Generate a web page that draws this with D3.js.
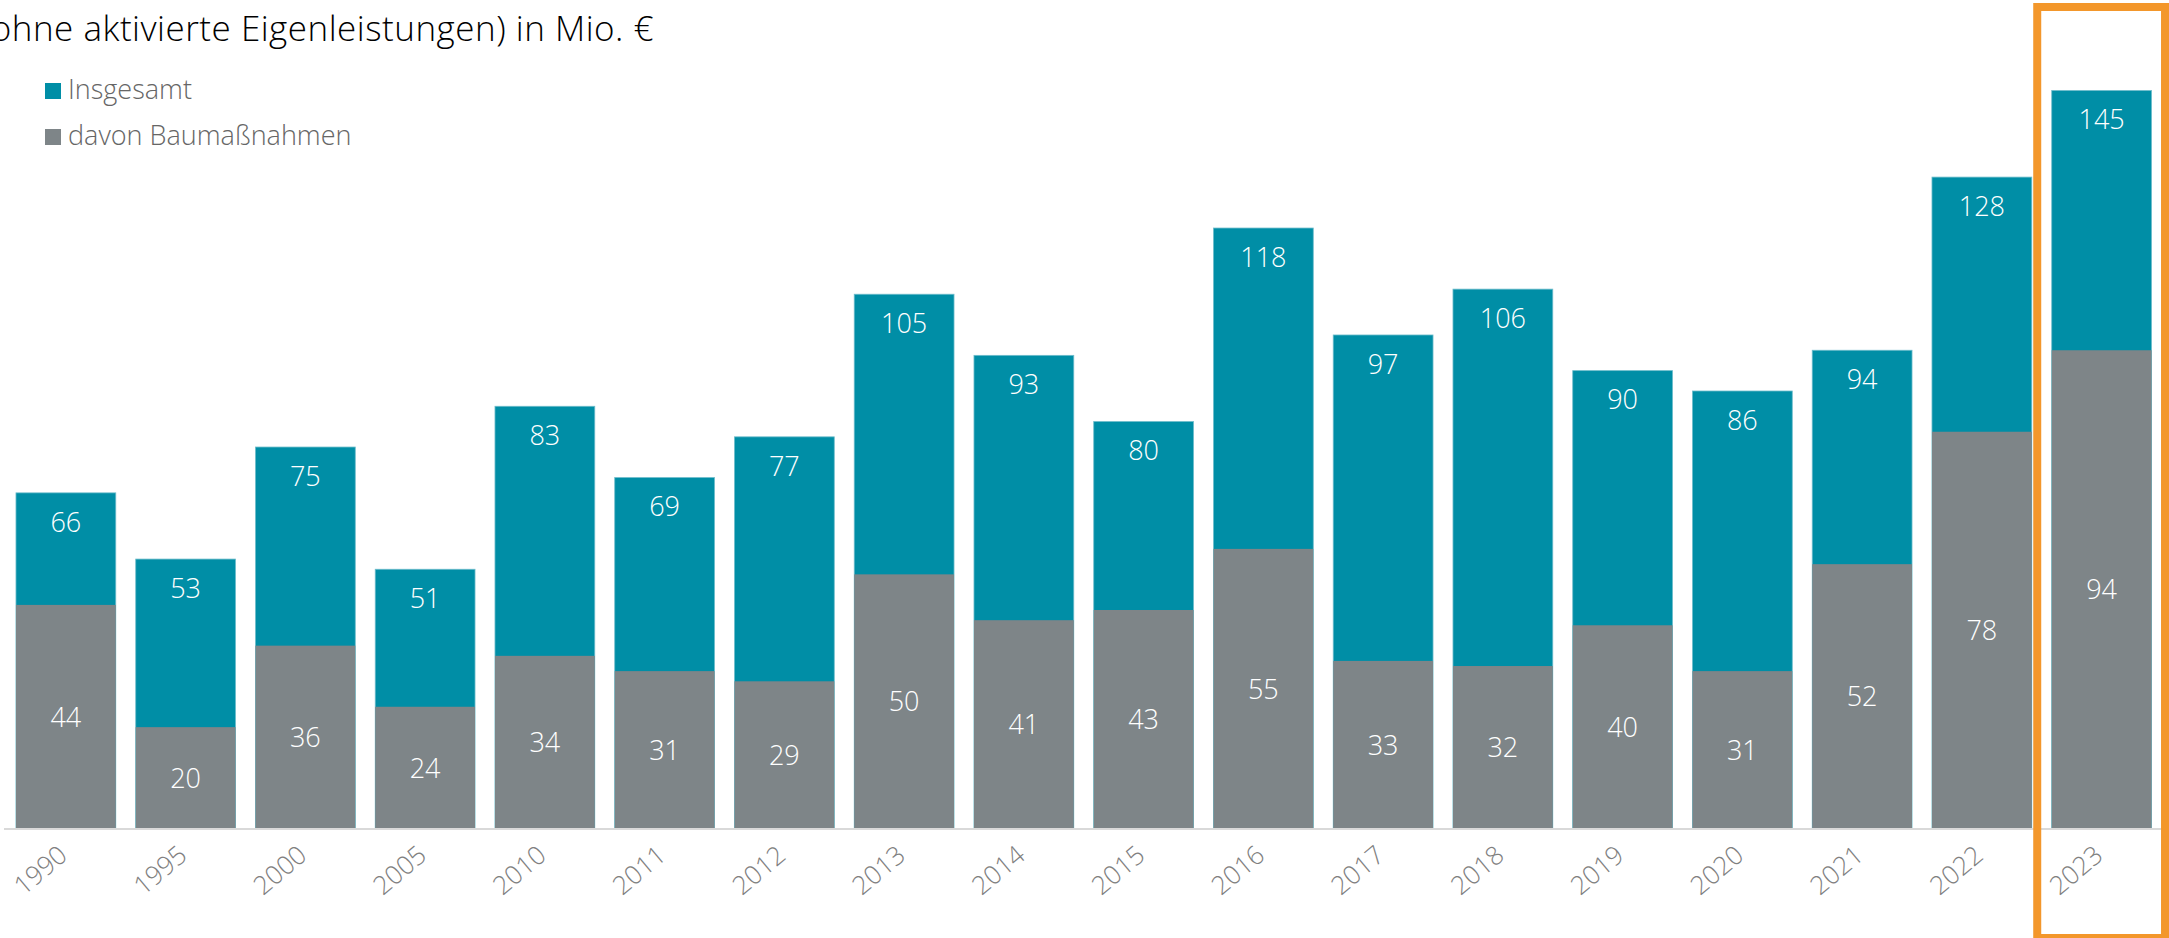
<!DOCTYPE html>
<html>
<head>
<meta charset="utf-8">
<script src="https://cdn.jsdelivr.net/npm/d3@7"></script>
<style>
  body { margin: 0; background: #fff; overflow: hidden; }
  svg { display: block; font-family: "Open Sans", sans-serif; }
</style>
</head>
<body>
<script>
var years = ["1990", "1995", "2000", "2005", "2010", "2011", "2012", "2013", "2014",
    "2015", "2016", "2017", "2018", "2019", "2020", "2021", "2022", "2023"];
var insgesamt = [66, 53, 75, 51, 83, 69, 77, 105, 93, 80, 118, 97, 106, 90, 86, 94, 128, 145];
var baumassnahmen = [44, 20, 36, 24, 34, 31, 29, 50, 41, 43, 55, 33, 32, 40, 31, 52, 78, 94];
var seriesNames = ["Insgesamt", "davon Baumaßnahmen"];
var highlightYear = "2023";

var width = 2169;
var height = 938;
var baseY = 829;
var colors = {total: "#008ea6", bau: "#7e8588", axis: "#d9d9d9", highlight: "#f3972b"};

var svg = d3.select("body").append("svg")
    .attr("width", width)
    .attr("height", height);

var xScale = d3.scaleBand()
    .domain(years)
    .range([6, 2161.5])
    .paddingInner(1 / 6)
    .paddingOuter(1 / 12);

var yScale = d3.scaleLinear()
    .domain([0, 150])
    .range([baseY, baseY - 150 * 5.093]);

// title (cut at the left edge like in the source)
svg.append("text")
    .text("(ohne aktivierte Eigenleistungen) in Mio. €")
    .attr("text-anchor", "end")
    .attr("x", 654)
    .attr("y", 41)
    .attr("font-size", 35)
    .attr("letter-spacing", 0.5)
    .attr("font-weight", 300)
    .attr("fill", "#000");

// legend
var legend = svg.append("g")
    .selectAll("g")
    .data(seriesNames)
    .join("g")
        .attr("transform", function(d, i) { return "translate(45," + (83 + i * 46) + ")"; });

legend.append("rect")
    .attr("width", 16)
    .attr("height", 16)
    .attr("fill", function(d, i) { return i == 0 ? colors.total : colors.bau; });

legend.append("text")
    .text(function(d) { return d; })
    .attr("x", 23)
    .attr("y", 16)
    .attr("font-size", 27)
    .attr("font-weight", 300)
    .attr("fill", "#666");

var rows = years.map(function(y, i) {
    return {year: y, total: insgesamt[i], bau: baumassnahmen[i]};
});

// total bars
svg.append("g")
    .selectAll("rect")
    .data(rows)
    .join("rect")
        .attr("x", function(d) { return xScale(d.year); })
        .attr("y", function(d) { return yScale(d.total); })
        .attr("width", xScale.bandwidth())
        .attr("height", function(d) { return baseY - yScale(d.total); })
        .attr("fill", colors.total)
        .attr("stroke", "#6dbccb")
        .attr("stroke-width", 0.8);

// Baumaßnahmen bars on top
svg.append("g")
    .selectAll("rect")
    .data(rows)
    .join("rect")
        .attr("x", function(d) { return xScale(d.year); })
        .attr("y", function(d) { return yScale(d.bau); })
        .attr("width", xScale.bandwidth())
        .attr("height", function(d) { return baseY - yScale(d.bau); })
        .attr("fill", colors.bau);

// value labels
svg.append("g")
    .selectAll("text")
    .data(rows)
    .join("text")
        .text(function(d) { return d.total; })
        .attr("text-anchor", "middle")
        .attr("x", function(d) { return xScale(d.year) + xScale.bandwidth() / 2; })
        .attr("y", function(d) { return yScale(d.total) + 29; })
        .attr("dy", "0.36em")
        .attr("font-size", 27)
        .attr("font-weight", 300)
        .attr("fill", "#fff");

svg.append("g")
    .selectAll("text")
    .data(rows)
    .join("text")
        .text(function(d) { return d.bau; })
        .attr("text-anchor", "middle")
        .attr("x", function(d) { return xScale(d.year) + xScale.bandwidth() / 2; })
        .attr("y", function(d) { return (yScale(d.bau) + baseY) / 2; })
        .attr("dy", "0.36em")
        .attr("font-size", 27)
        .attr("font-weight", 300)
        .attr("fill", "#fff");

// x axis
var xAxis = svg.append("g")
    .attr("transform", "translate(0," + baseY + ")")
    .call(d3.axisBottom(xScale).tickSize(0).tickPadding(0));

xAxis.select(".domain")
    .attr("d", "M4,0H2161")
    .attr("stroke", colors.axis)
    .attr("stroke-width", 2);

xAxis.selectAll("text")
    .attr("text-anchor", "end")
    .attr("font-family", "Open Sans, sans-serif")
    .attr("font-size", 26)
    .attr("font-weight", 300)
    .attr("fill", "#808080")
    .attr("dy", 0)
    .attr("y", 0)
    .attr("transform", "translate(3,29) rotate(-40)");

// highlight box around the last year
var hx = xScale(highlightYear);
svg.append("rect")
    .attr("x", hx - 14.5)
    .attr("y", 7)
    .attr("width", xScale.bandwidth() + 28)
    .attr("height", 931)
    .attr("fill", "none")
    .attr("stroke", colors.highlight)
    .attr("stroke-width", 8);
</script>
</body>
</html>
